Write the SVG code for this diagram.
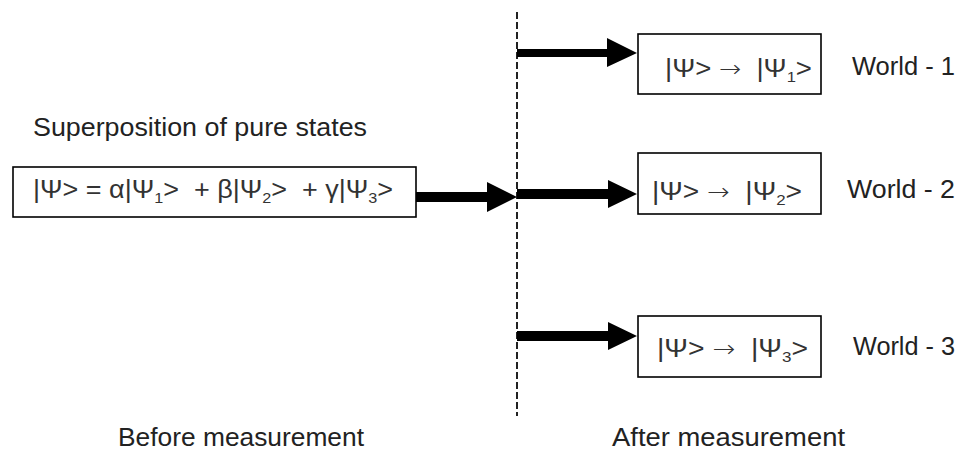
<svg xmlns="http://www.w3.org/2000/svg" width="964" height="451" viewBox="0 0 964 451">
<style>
text{font-family:"Liberation Sans",Arial,sans-serif;font-size:25px;fill:#222}
.box{fill:#fff;stroke:#000;stroke-width:1.6}
.bt{fill:#333}
.sub{font-size:15px}
.ar{font-family:"DejaVu Sans",sans-serif;font-size:24px;font-weight:300}
.arrow{fill:#000}
.divider{stroke:#222;stroke-width:2;stroke-dasharray:7 3;fill:none}
</style>
<rect width="964" height="451" fill="#fff"/>
<g id="connectors">
<line class="divider" x1="517" y1="12" x2="517" y2="416"/>
<polygon class="arrow" points="416,192 487,192 487,182 517,197 487,212 487,202 416,202"/>
<polygon class="arrow" points="517,49 607,49 607,38 637,53 607,67 607,57 517,57"/>
<polygon class="arrow" points="517,189 608,189 608,180 637,194 608,208 608,199 517,199"/>
<polygon class="arrow" points="517,331 608,331 608,322 637,336 608,350 608,341 517,341"/>
</g>
<g id="label-superposition">
<text x="33" y="136" textLength="334" lengthAdjust="spacingAndGlyphs">Superposition of pure states</text>
</g>
<g id="node-superposition">
<rect class="box" x="13" y="167" width="403" height="50"/>
<text class="bt" x="33" y="198" xml:space="preserve" textLength="360" lengthAdjust="spacingAndGlyphs">|Ψ&gt; = α|Ψ<tspan class="sub" dy="5">1</tspan><tspan dy="-5">&gt;  + β|Ψ</tspan><tspan class="sub" dy="5">2</tspan><tspan dy="-5">&gt;  + γ|Ψ</tspan><tspan class="sub" dy="5">3</tspan><tspan dy="-5">&gt;</tspan></text>
</g>
<g id="node-world1">
<rect class="box" x="638" y="34" width="183" height="60"/>
<text class="bt" x="665" y="77" xml:space="preserve" textLength="147" lengthAdjust="spacingAndGlyphs">|Ψ&gt; <tspan class="ar">→</tspan>  |Ψ<tspan class="sub" dy="5">1</tspan><tspan dy="-5">&gt;</tspan></text>
<text x="852" y="75" textLength="103" lengthAdjust="spacingAndGlyphs">World - 1</text>
</g>
<g id="node-world2">
<rect class="box" x="638" y="153" width="183" height="61"/>
<text class="bt" x="652" y="200" xml:space="preserve" textLength="150" lengthAdjust="spacingAndGlyphs">|Ψ&gt; <tspan class="ar">→</tspan>  |Ψ<tspan class="sub" dy="5">2</tspan><tspan dy="-5">&gt;</tspan></text>
<text x="847" y="198" textLength="108" lengthAdjust="spacingAndGlyphs">World - 2</text>
</g>
<g id="node-world3">
<rect class="box" x="638" y="316" width="183" height="61"/>
<text class="bt" x="657" y="357" xml:space="preserve" textLength="151" lengthAdjust="spacingAndGlyphs">|Ψ&gt; <tspan class="ar">→</tspan>  |Ψ<tspan class="sub" dy="5">3</tspan><tspan dy="-5">&gt;</tspan></text>
<text x="853" y="355" textLength="102" lengthAdjust="spacingAndGlyphs">World - 3</text>
</g>
<g id="label-before">
<text x="118" y="446" textLength="246" lengthAdjust="spacingAndGlyphs">Before measurement</text>
</g>
<g id="label-after">
<text x="612" y="446" textLength="233" lengthAdjust="spacingAndGlyphs">After measurement</text>
</g>
</svg>
